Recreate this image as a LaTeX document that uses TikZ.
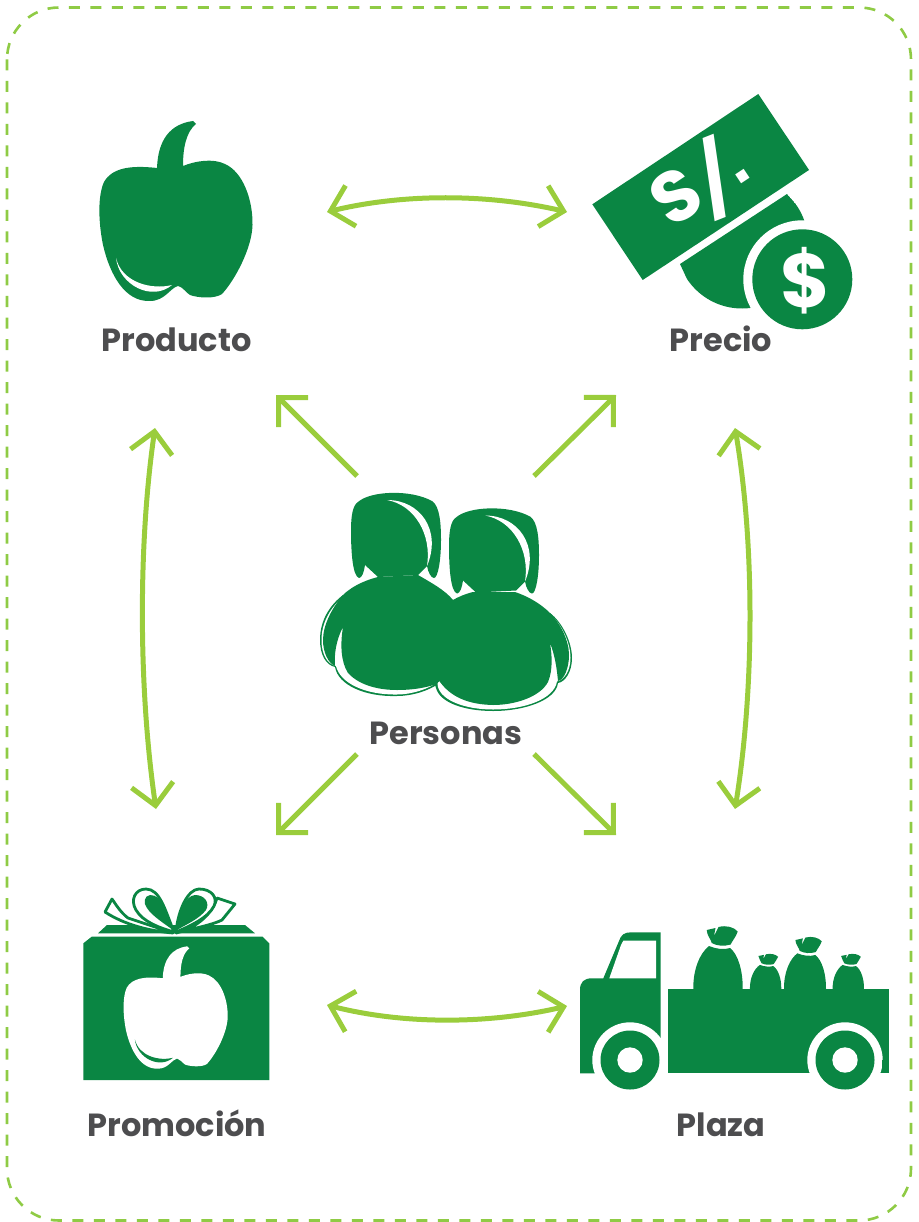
\documentclass[tikz,border=0pt]{standalone}
\usepackage{fontspec}
\usepackage{graphicx}
\setmainfont{Poppins}
\newfontfamily\dotfont{Liberation Sans}
\usetikzlibrary{arrows.meta,bending}
\definecolor{leaf}{HTML}{0A8643}
\definecolor{lime}{HTML}{9ACD3C}
\definecolor{limeb}{HTML}{8FCB45}
\definecolor{ink}{HTML}{4D4D4F}
\tikzset{
  framebox/.style={draw=limeb,line width=2.6pt,dash pattern=on 11pt off 10.5pt,rounded corners=52pt},
  twoway/.style={draw=lime,line width=5pt,{Straight Barb[length=21pt,width=42pt,line width=5pt,flex]}-{Straight Barb[length=21pt,width=42pt,line width=5pt,flex]}},
  oneway/.style={draw=lime,line width=5pt,-{Straight Barb[length=21pt,width=42pt,line width=5pt]}},
  lbl/.style={text=ink,font=\fontsize{32}{38}\selectfont\bfseries,inner sep=0pt,anchor=base},
  icon/.style={fill=leaf,draw=none},
  ribbon/.style={draw=leaf,line width=2.8pt,fill=white,line join=round},
}
\newcommand{\pepperdraw}[2]{%
  \fill[#1] (157,168) .. controls (158,140) and (170,124) .. (193,121)
    -- (196,124) .. controls (186,132) and (183,148) .. (183,166)
    .. controls (195,161) and (213,158) .. (225,164)
    .. controls (243,172) and (253,200) .. (252.5,225)
    .. controls (252,248) and (235,280) .. (222,294)
    .. controls (215,299) and (198,298) .. (190,295)
    .. controls (185,292) and (183,287) .. (178,286)
    .. controls (170,288) and (165,301) .. (150,301)
    .. controls (125,302) and (110,275) .. (103,245)
    .. controls (98,220) and (98,195) .. (104,182)
    .. controls (112,168) and (130,165) .. (157,168) -- cycle;
  \fill[#2] (116,258) .. controls (119,285) and (152,302) .. (172,285)
    .. controls (152,290) and (122,283) .. (116,258) -- cycle;
}
\newcommand{\bagdraw}{%
  \fill[icon] (-24.7,0) .. controls (-25,-20) and (-18,-36) .. (-9,-43)
    .. controls (-2,-40) and (6,-39) .. (12,-41)
    .. controls (20,-35) and (25,-18) .. (24.7,0) -- cycle;
  \fill[icon] (-11.3,-59) -- (-2.5,-61) -- (-4,-53) -- (0.5,-62)
    .. controls (8,-64) and (16,-62) .. (19.7,-57.5)
    .. controls (18,-52) and (14,-48) .. (12.7,-44.5)
    .. controls (6,-42.5) and (-1,-43) .. (-6.3,-46)
    .. controls (-7,-50) and (-11,-53) .. (-11.3,-59) -- cycle;
}
\newcommand{\headdraw}{%
  \fill[icon] (378,577) -- (365,565) .. controls (364,572) and (362,578) .. (359,578)
    .. controls (353,576) and (351,555) .. (351,530)
    .. controls (351,515) and (353,505) .. (358,502)
    .. controls (370,491) and (410,489) .. (432,501)
    .. controls (440,506) and (441,525) .. (441,540)
    .. controls (441,560) and (438,578) .. (434,578)
    .. controls (431,578) and (428,572) .. (427,566) -- (418,575) -- cycle;
  \fill[white] (387,500) .. controls (420,500) and (442,530) .. (427,566)
    .. controls (432,535) and (415,505) .. (387,500) -- cycle;
}
\begin{document}
\begin{tikzpicture}[x=1pt,y=-1pt]
\useasboundingbox (0,0) rectangle (918,1222);
\draw[framebox] (7,7.5) rectangle (911,1220.5);

% ---------- Producto pepper
\pepperdraw{leaf}{white}

% ---------- Precio money
\begin{scope}
  \clip (680,264) -- (787,194) -- (880,300) -- (720,350) -- cycle;
  \fill[icon] (742,242.5) circle[radius=66];
\end{scope}
\fill[white] (802.3,279.3) circle[radius=59];
\fill[icon] (802.3,279.3) circle[radius=50];
\fill[icon] (758.3,94) -- (809,170) -- (642.7,280) -- (592.3,204.3) -- cycle;
\node[text=white,font=\fontsize{72}{76}\selectfont\bfseries,rotate=33.5,inner sep=0pt] (billtext) at (702.4,186.2) {S\hspace{-4pt}\raisebox{-8pt}{\rotatebox[origin=c]{-12}{/}}\hspace{-10pt}{\dotfont .}};
\node[text=white,font=\fontsize{76}{80}\selectfont\bfseries,inner sep=0pt] (cointext) at (805,281) {\$};

% ---------- Personas
\fill[icon] (343,595) .. controls (330,605) and (320,620) .. (320,640)
  .. controls (320,655) and (326,665) .. (335,667)
  .. controls (338,685) and (365,697) .. (397,696)
  .. controls (412,696) and (428,691) .. (438,684) -- (438,670) -- (360,600) -- cycle;
\fill[white] (343,597) .. controls (331,607) and (321.5,622) .. (321.5,640)
  .. controls (321.5,654) and (327,664) .. (336,666)
  .. controls (340,683) and (365,695) .. (397,694.5)
  .. controls (412,694.5) and (428,689) .. (438,682) -- (438,670) -- (360,600) -- cycle;
\fill[icon] (378,577) .. controls (362,581) and (350,588) .. (343,595)
  .. controls (332,608) and (323,625) .. (323,640)
  .. controls (323,652) and (328,663) .. (335,666)
  .. controls (334,655) and (336,640) .. (343,627)
  .. controls (340,645) and (341,662) .. (348,673)
  .. controls (360,686) and (380,690) .. (397,690)
  .. controls (415,690) and (430,687) .. (442,682) -- (470,620) -- (453,600)
  .. controls (445,590) and (430,582) .. (418,575) -- cycle;
\headdraw
\begin{scope}[shift={(98,15.5)}]
  \headdraw
\end{scope}
\fill[icon] (550,613) .. controls (562,622) and (572,642) .. (572,658)
  .. controls (572,672) and (565,682) .. (558,683)
  .. controls (556,700) and (525,711) .. (493,711)
  .. controls (465,711) and (440,703) .. (436,688)
  .. controls (435,684) and (433,683) .. (437,682) -- (470,620) -- cycle;
\fill[white] (549,613) .. controls (561,623) and (570.5,642) .. (570.5,658)
  .. controls (570.5,671) and (564,680) .. (557,681.5)
  .. controls (554,699) and (525,709.5) .. (493,709.5)
  .. controls (466,709.5) and (442,701) .. (438,687)
  .. controls (437,684) and (437,683) .. (440,681) -- (470,620) -- cycle;
\fill[icon] (473,592) .. controls (465,594) and (458,597) .. (453,600)
  -- (435,625) -- (438,679)
  .. controls (450,698) and (470,704.5) .. (493,705)
  .. controls (515,705) and (540,697) .. (548,682)
  .. controls (553,670) and (552,655) .. (550,643)
  .. controls (555,655) and (557,670) .. (558,681)
  .. controls (564,680) and (569,668) .. (569,655)
  .. controls (569,640) and (560,623) .. (550,613)
  .. controls (540,603) and (527,596) .. (515,592) -- cycle;

% ---------- Promocion gift
\fill[icon] (91.7,936.7) -- (262.7,936.7) -- (269.3,943.3) -- (269.3,1080) -- (83.3,1080) -- (83.3,943.3) -- cycle;
\fill[icon] (107,925) -- (245,925) -- (255,933.3) -- (98,933.3) -- cycle;
\begin{scope}[shift={(56,864)},scale=0.68]
  \pepperdraw{white}{leaf}
\end{scope}
% ribbon tails
\draw[ribbon] (173,933) -- (128,918) .. controls (120,912) and (115,903) .. (112,899) -- (105,912) .. controls (125,925) and (150,931) .. (173,933) -- cycle;
\draw[ribbon] (176,933) .. controls (195,928) and (212,925) .. (222,920) -- (235,904) -- (217,898) .. controls (213,912) and (198,928) .. (176,933) -- cycle;
% ribbon loops
\draw[ribbon] (174,932) .. controls (165,910) and (160,889) .. (146,889)
   .. controls (135,889) and (130,900) .. (136,910)
   .. controls (143,922) and (160,928) .. (174,932) -- cycle;
\draw[ribbon] (176,932) .. controls (178,910) and (188,889) .. (199,889)
   .. controls (212,889) and (218,898) .. (214,906)
   .. controls (208,918) and (190,926) .. (176,932) -- cycle;
\fill[icon] (173,930) .. controls (166,912) and (163,895) .. (150,895)
   .. controls (144,896) and (143,903) .. (147,908)
   .. controls (152,916) and (165,924) .. (173,930) -- cycle;
\fill[icon] (177,930) .. controls (178,912) and (185,896) .. (195,895)
   .. controls (205,895) and (210,903) .. (206,910)
   .. controls (199,919) and (187,924) .. (177,930) -- cycle;

% ---------- Plaza truck
\fill[icon] (580,1073.3) -- (580,990) .. controls (580,982) and (584,978.3) .. (592,978.3)
  -- (603.3,978.3) -- (619,941) .. controls (621,935) and (624,932.3) .. (631,932.3)
  -- (660.7,932.3) -- (660.7,1073.3) -- cycle;
\fill[white] (623.3,940.7) -- (656,940.7) -- (656,978.3) -- (609.3,978.3) -- (621,945) -- cycle;
\fill[icon] (668,989) -- (889,989) -- (889,1073.3) -- (668,1073.3) -- cycle;
\fill[white] (630,1060) circle[radius=37.7];
\fill[white] (845,1060) circle[radius=37.7];
\fill[white] (780,1073.3) rectangle (890,1100);
\fill[icon] (881.7,1073.3) rectangle (889,1060);
\fill[icon] (630,1060) circle[radius=29.5];
\fill[white] (630,1060) circle[radius=12.7];
\fill[icon] (845,1060) circle[radius=29.5];
\fill[white] (845,1060) circle[radius=12.7];
\begin{scope}[shift={(718,989)}]\bagdraw\end{scope}
\begin{scope}[shift={(765.6,989)},xscale=0.635,yscale=0.56]\bagdraw\end{scope}
\begin{scope}[shift={(805,989)},xscale=0.85,yscale=0.83]\bagdraw\end{scope}
\begin{scope}[shift={(848.3,989)},xscale=0.635,yscale=0.56]\bagdraw\end{scope}

% ---------- Labels
\node[lbl] (producto) at (176.5,351) {Producto};
\node[lbl] (precio) at (721,351) {Precio};
\node[lbl] (personas) at (446,744) {Personas};
\node[lbl] (promocion) at (177,1136) {Promoción};
\node[lbl] (plaza) at (721,1136) {Plaza};

% ---------- Connector ends
\coordinate (prodE) at (327,212);
\coordinate (precW) at (567,212);
\coordinate (promE) at (327,1005);
\coordinate (plazW) at (567,1006);
\coordinate (prodS) at (155,428);
\coordinate (promN) at (156,809);
\coordinate (precS) at (735,428);
\coordinate (plazN) at (735,809);
\coordinate (persNW) at (357,476);
\coordinate (persNE) at (534,476);
\coordinate (persSW) at (357,754);
\coordinate (persSE) at (534,754);
\coordinate (toProd) at (276,395);
\coordinate (toPrec) at (616,395);
\coordinate (toProm) at (276,835);
\coordinate (toPlaz) at (616,835);

\draw[twoway] (prodE) .. controls (400,193) and (490,193) .. (precW);
\draw[twoway] (promE) .. controls (400,1025) and (490,1025) .. (plazW);
\draw[twoway] (prodS) .. controls (138,540) and (138,690) .. (promN);
\draw[twoway] (precS) .. controls (755,540) and (755,690) .. (plazN);
\draw[oneway] (persNW) -- (toProd);
\draw[oneway] (persNE) -- (toPrec);
\draw[oneway] (persSW) -- (toProm);
\draw[oneway] (persSE) -- (toPlaz);
\end{tikzpicture}
\end{document}
